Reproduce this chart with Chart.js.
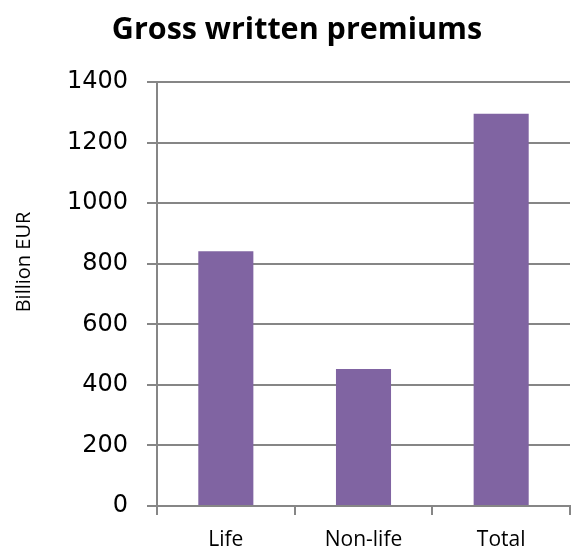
<!DOCTYPE html>
<html>
<head>
<meta charset="utf-8">
<script src="https://cdn.jsdelivr.net/npm/chart.js@4"></script>
<style>
  html, body { margin: 0; padding: 0; background: #fff; }
  #wrap { width: 576px; height: 550px; }
</style>
</head>
<body>
<div id="wrap"><canvas id="myChart"></canvas></div>
<script>
const categories = ['Life', 'Non-life', 'Total'];
const premiums = [841, 452, 1295];
const yTicks = [0, 200, 400, 600, 800, 1000, 1200, 1400];
const yAxisTitle = 'Billion EUR';

Chart.defaults.font.family = '"Open Sans", sans-serif';
Chart.defaults.color = '#000';

const gridGray = '#868686';

// Excel puts the axis title a bit above the middle of the plot, so draw it by hand
const yTitlePlugin = {
    id: 'yTitle',
    afterDraw(chart) {
        const { ctx, chartArea } = chart;
        ctx.save();
        ctx.translate(24, (chartArea.top + chartArea.bottom) / 2 - 32);
        ctx.rotate(-Math.PI / 2);
        ctx.font = '20px "Open Sans", sans-serif';
        ctx.fillStyle = '#000';
        ctx.textAlign = 'center';
        ctx.textBaseline = 'middle';
        ctx.fillText(yAxisTitle, 0, 0);
        ctx.restore();
    },
};

new Chart(document.querySelector('#myChart'), {
    type: 'bar',
    data: {
        labels: categories,
        datasets: [
            {
                label: 'Gross written premiums',
                data: premiums,
                backgroundColor: '#8064A2',
                borderWidth: 0,
                categoryPercentage: 1,
                barPercentage: 0.4,
            },
        ],
    },
    plugins: [yTitlePlugin],
    options: {
        animation: false,
        responsive: true,
        maintainAspectRatio: false,
        layout: {
            padding: { left: 24, right: 6, top: 0, bottom: 0 },
        },
        plugins: {
            legend: { display: false },
            tooltip: { enabled: false },
            title: {
                display: true,
                text: 'Gross written premiums',
                font: { size: 30.5, weight: 'bold' },
                color: '#000',
                padding: { top: 12, bottom: 33.4 },
            },
        },
        scales: {
            x: {
                afterFit: (axis) => {
                    axis.height = 44;
                },
                grid: {
                    display: true,
                    offset: true,
                    drawOnChartArea: false,
                    drawTicks: true,
                    tickLength: 9,
                    color: gridGray,
                    lineWidth: 2,
                },
                border: { color: gridGray, width: 2 },
                ticks: {
                    font: { size: 21 },
                    color: '#000',
                    padding: 12,
                },
            },
            y: {
                min: 0,
                max: 1400,
                afterBuildTicks: (axis) => {
                    axis.ticks = yTicks.map((v) => ({ value: v }));
                },
                afterFit: (axis) => {
                    axis.width = 133;
                },
                grid: {
                    color: gridGray,
                    lineWidth: 2,
                    tickLength: 10,
                },
                border: { color: gridGray, width: 2 },
                ticks: {
                    font: { family: '"DejaVu Sans", sans-serif', size: 24 },
                    color: '#000',
                    padding: 19,
                    callback: (v) => String(v),
                },
            },
        },
    },
});
</script>
</body>
</html>
